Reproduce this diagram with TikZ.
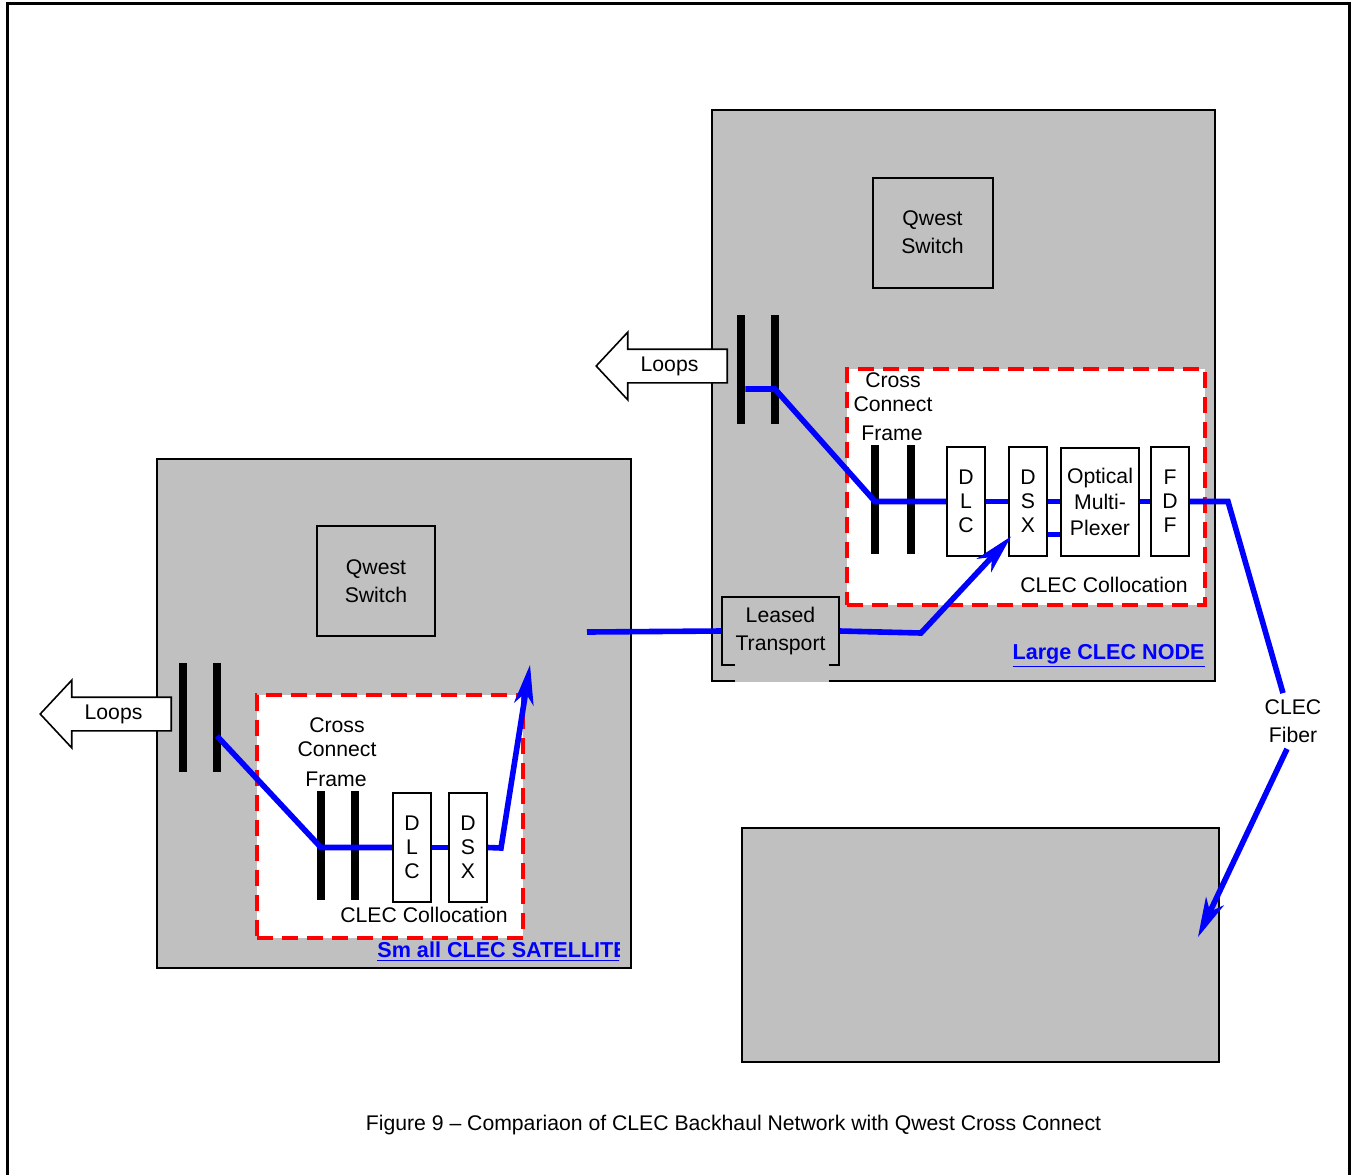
\documentclass[tikz,border=0pt]{standalone}
\usepackage{fontspec}
\setmainfont{Liberation Sans}
\usetikzlibrary{positioning,arrows.meta,shapes.arrows}
\definecolor{sitegray}{RGB}{192,192,192}
\definecolor{fiberblue}{RGB}{0,0,255}
\definecolor{colored}{RGB}{255,0,0}
\tikzset{
  txt/.style={font=\fontsize{10.6}{14}\selectfont,align=center,inner sep=0pt},
  site/.style={draw,line width=1pt,fill=sitegray,inner sep=0pt},
  switchbox/.style={site,txt,minimum width=60pt,minimum height=55pt},
  colo/.style={draw=colored,fill=white,line width=2pt,
              dash pattern=on 8pt off 4.5pt,inner sep=0pt},
  equip/.style={draw,line width=1pt,fill=white,minimum width=19pt,
               minimum height=54.5pt,align=center,inner sep=0pt,
               font=\fontsize{10.6}{12}\selectfont},
  bar/.style={fill=black,minimum width=4pt,minimum height=54.5pt,inner sep=0pt},
  fiber/.style={fiberblue,line width=2.8pt},
  fiberto/.style={fiber,-{Stealth[length=20pt,width=10pt,inset=6pt,line width=0.5pt]}},
  loopsarrow/.style={single arrow,shape border rotate=180,draw,line width=0.8pt,
            fill=white,single arrow head extend=8.5pt,single arrow tip angle=94,
            minimum height=65.5pt,font=\fontsize{10.6}{12}\selectfont,
            text height=7.5pt,text depth=2.5pt,inner ysep=3pt},
  nodetitle/.style={font=\bfseries\fontsize{10.8}{12}\selectfont,text=fiberblue,inner sep=0pt},
}

\begin{document}
\begin{tikzpicture}[x=0.5pt,y=-0.5pt]
  \useasboundingbox (0,0) rectangle (1357,1175);
  \draw[line width=1.5pt] (7,1175) -- (7,3) -- (1349,3) -- (1349,1175);

  % large CLEC node
  \node[site,minimum width=251.5pt,minimum height=285.5pt] (largeSite) at (963.5,395.5) {};
  \node[switchbox] (switchT) at (932.5,232.5) {Qwest\\Switch};
  \node[colo,minimum width=179pt,minimum height=118pt] (coloT) at (1026,487) {};
  \node[bar] (mdfTa) at (741,369.5) {};
  \node[bar] (mdfTb) at (775,369.5) {};
  \node[loopsarrow,anchor=tail] (loopsT) at (728,366) {Loops};
  \node[txt,font=\fontsize{10.6}{12}\selectfont] (ccfT) at (893,392) {Cross\\Connect};
  \node[txt] (frameT) at (892,433) {Frame};
  \node[bar] (ccfTa) at (875,499.5) {};
  \node[bar] (ccfTb) at (911,499.5) {};
  \node[equip] (dlcT) at (966,501.5) {D\\L\\C};
  \node[equip,right=11pt of dlcT] (dsxT) {D\\S\\X};
  \node[equip,minimum width=39pt,minimum height=54pt,right=6pt of dsxT,
        font=\fontsize{10.6}{13}\selectfont] (omuxT) {Optical\\Multi-\\Plexer};
  \node[equip,right=5pt of omuxT] (fdfT) {F\\D\\F};
  \node[txt] (colLblT) at (1104,585) {CLEC Collocation};
  \node[nodetitle,anchor=east] (titleT) at (1205,656) {\underline{Large CLEC NODE}};
  \node[site,txt,minimum width=58.5pt,minimum height=34pt] (leased) at (780.5,631) {Leased\\Transport};
  \fill[sitegray] (735,655) rectangle (829,682);

  % small CLEC satellite
  \node[site,minimum width=237pt,minimum height=254.5pt] (smallSite) at (394,713.5) {};
  \node[switchbox,minimum width=59pt] (switchS) at (376,581) {Qwest\\Switch};
  \node[colo,minimum width=133pt,minimum height=121.5pt] (coloS) at (390,816.5) {};
  \node[bar] (mdfSa) at (183,717.5) {};
  \node[bar] (mdfSb) at (217,717.5) {};
  \node[loopsarrow,anchor=tail] (loopsS) at (172,714) {Loops};
  \node[txt,font=\fontsize{10.6}{12}\selectfont] (ccfS) at (337,737) {Cross\\Connect};
  \node[txt] (frameS) at (336,779) {Frame};
  \node[bar] (ccfSa) at (321,845.5) {};
  \node[bar] (ccfSb) at (355,845.5) {};
  \node[equip] (dlcS) at (412,847.5) {D\\L\\C};
  \node[equip,right=8pt of dlcS] (dsxS) {D\\S\\X};
  \node[txt] (colLblS) at (424,915) {CLEC Collocation};
  \begin{scope}
    \clip (377,935) rectangle (619,970);
    \node[nodetitle,anchor=west] (titleS) at (377,952) {\underline{Sm all CLEC SATELLITE}};
  \end{scope}

  % far end
  \node[site,minimum width=238.5pt,minimum height=117pt] (clecSite) at (980.5,945) {};
  \node[txt,inner sep=3pt] (fiberLbl) at (1293,721) {CLEC\\Fiber};

  \node[txt] (caption) at (733.5,1125)
    {Figure 9 -- Compariaon of CLEC Backhaul Network with Qwest Cross Connect};

  % fiber runs
  \coordinate (crossT) at (775,389);
  \coordinate (bendR) at (1228,499);
  \coordinate (tipR) at (1198,937);
  \coordinate (feedS) at (587,632);
  \coordinate (bendL) at (921,633);
  \coordinate (crossS) at (217,736);
  \coordinate (bendS) at (501,848);
  \coordinate (tipS) at (530,665);
  \draw[fiber] (mdfTa.east |- crossT) -- (crossT) -- (ccfTa |- dlcT.west) -- (dlcT.west);
  \draw[fiber] (dlcT.east) -- (dsxT.west);
  \draw[fiber] (dsxT.east) -- (omuxT.west);
  \draw[fiber] ([yshift=-16.5pt]dsxT.east) -- ([yshift=-16.5pt]omuxT.west);
  \draw[fiber] (omuxT.east) -- (fdfT.west);
  \draw[fiber] (fdfT.east) -- (fdfT.east -| bendR) -- ([xshift=-5pt]fiberLbl.north);
  \draw[fiberto] ([xshift=-3pt]fiberLbl.south) -- (tipR);
  \draw[fiber] (feedS) -- (leased.west);
  \draw[fiberto] (leased.east) -- (bendL) -- ([xshift=1.5pt,yshift=-17.5pt]dsxT.west);
  \draw[fiber] (crossS) -- (ccfSa |- dlcS.west) -- (dlcS.west);
  \draw[fiber] (dlcS.east) -- (dsxS.west);
  \draw[fiberto] (dsxS.east) -- (bendS) -- (tipS);
\end{tikzpicture}
\end{document}
